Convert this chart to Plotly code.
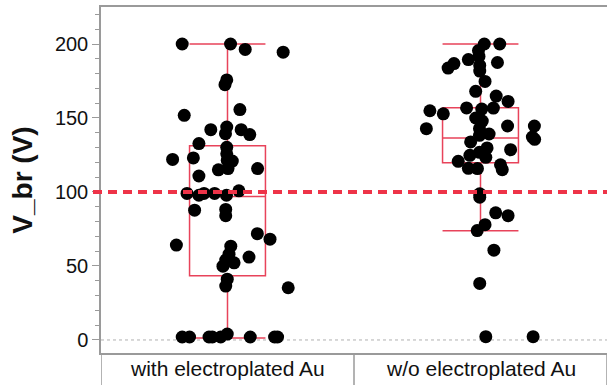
import plotly.graph_objects as go

categories = ["with electroplated Au", "w/o electroplated Au"]

# Group 1: with electroplated Au (values in V) and horizontal jitter (category units)
with_au_values = [200, 200, 196.3, 194.5, 175.7, 172.5, 151.8, 155.7, 142.1, 143.9,
                  139.4, 142.1, 138.8, 132.7, 122.0, 123.0, 130.2, 125.8, 121.4, 120.9,
                  115.8, 115.0, 115.8, 110.8, 99.0, 97.8, 99.0, 99.0, 97.8, 100.8,
                  87.7, 88.2, 84.0, 71.8, 68.1, 64.1, 63.4, 58.0, 54.0, 49.9,
                  52.1, 56.0, 41.1, 36.4, 35.3, 2.0, 2.0, 2.0, 2.0, 2.0,
                  4.0, 2.0, 2.0, 2.0]
with_au_jitter = [-0.179, 0.012, 0.070, 0.220, -0.003, -0.010, -0.171, 0.049, -0.066, -0.003,
                  -0.008, 0.054, 0.088, -0.113, -0.217, -0.135, -0.003, -0.003, -0.001, 0.019,
                  0.002, -0.036, 0.119, -0.113, -0.160, -0.113, -0.093, -0.051, -0.004, 0.045,
                  -0.130, -0.007, -0.007, 0.118, 0.168, -0.202, 0.013, 0.006, -0.007, -0.018,
                  0.026, 0.085, -0.001, -0.007, 0.240, -0.179, -0.150, -0.073, -0.060, -0.027,
                  -0.001, 0.090, 0.186, 0.198]

# Group 2: w/o electroplated Au
without_au_values = [200, 200, 195.6, 191.6, 189.5, 186.8, 183.7, 187.5, 185.5, 181.7,
                     174.7, 168.0, 164.8, 161.2, 154.9, 152.8, 156.8, 156.0, 156.7, 150.0,
                     147.9, 142.8, 144.6, 144.6, 142.8, 138.3, 139.2, 137.1, 135.6, 133.8,
                     129.8, 128.6, 124.8, 126.8, 123.4, 120.7, 116.0, 115.8, 118.4, 115.1,
                     98.8, 96.5, 85.9, 84.0, 77.9, 73.9, 60.7, 38.2, 2.2, 2.2]
without_au_jitter = [0.015, 0.076, -0.008, -0.006, -0.048, -0.105, -0.128, 0.067, -0.003, -0.003,
                     0.018, -0.019, 0.062, 0.109, -0.200, -0.147, -0.055, 0.005, 0.051, -0.019,
                     0.007, -0.214, 0.107, 0.213, -0.004, -0.004, 0.034, 0.205, 0.214, -0.039,
                     0.026, 0.119, -0.042, -0.004, 0.021, -0.088, -0.048, -0.012, 0.079, 0.086,
                     -0.003, -0.003, 0.060, 0.109, 0.018, -0.013, 0.053, -0.003, 0.021, 0.208]

# Box statistics
box_q1 = [43.4, 119.8]
box_median = [97.0, 136.5]
box_q3 = [131.3, 157.0]
box_lower = [1.4, 73.8]
box_upper = [200.0, 200.0]

threshold = 100
y_ticks = [0, 50, 100, 150, 200]

RED = "#EE3348"
BOXRED = "#E8435A"
GREY = "#9a9a9a"
FONT = "Liberation Sans, Arial, sans-serif"

fig = go.Figure()

for i in range(2):
    fig.add_trace(go.Box(
        x=[i], q1=[box_q1[i]], median=[box_median[i]], q3=[box_q3[i]],
        lowerfence=[box_lower[i]], upperfence=[box_upper[i]],
        width=0.3, whiskerwidth=1, boxpoints=False,
        fillcolor="rgba(0,0,0,0)", line=dict(color=BOXRED, width=1.5),
        showlegend=False, hoverinfo="skip"))

groups = [(with_au_values, with_au_jitter), (without_au_values, without_au_jitter)]
for i, (vals, jit) in enumerate(groups):
    fig.add_trace(go.Scatter(
        x=[i + j for j in jit], y=vals, mode="markers",
        marker=dict(color="black", size=13, line=dict(width=0)),
        showlegend=False))

plot_h = 385 - 7 - 32

# threshold line
fig.add_shape(type="line", xref="paper", yref="y", x0=-8 / 506, x1=1,
              y0=threshold, y1=threshold,
              line=dict(color=RED, width=4, dash="9px,6px"), layer="above")
# zero dotted line
fig.add_shape(type="line", xref="paper", yref="y", x0=0, x1=1, y0=0, y1=0,
              line=dict(color="#b0b0b0", width=1, dash="3px,3px"), layer="below")
# category separators below the axis
for xv in [-0.5, 0.5, 1.5]:
    fig.add_shape(type="line", xref="x", yref="paper", x0=xv, x1=xv,
                  y0=-32 / plot_h, y1=0, line=dict(color=GREY, width=1.5))

# category labels
for i, name in enumerate(categories):
    fig.add_annotation(x=i, xref="x", y=-15 / plot_h, yref="paper",
                       text=name, showarrow=False, yanchor="middle",
                       font=dict(size=21, color="#111"))

fig.update_layout(
    width=607, height=385,
    margin=dict(l=101, r=0, t=7, b=32, autoexpand=False),
    plot_bgcolor="white", paper_bgcolor="white",
    font=dict(family=FONT, size=20, color="#111"),
    xaxis=dict(range=[-0.5, 1.5], tickvals=[0, 1], showticklabels=False,
               showline=True, linecolor=GREY, linewidth=1.5, mirror=True,
               showgrid=False, zeroline=False, ticks=""),
    yaxis=dict(range=[-8.8, 225], tickvals=y_ticks, showline=True,
               linecolor=GREY, linewidth=1.5, showgrid=False, zeroline=False,
               ticks="outside", ticklen=7, tickcolor=GREY, tickwidth=1,
               minor=dict(dtick=10, ticks="outside", ticklen=4, tickcolor=GREY),
               tickfont=dict(size=20),
               title=dict(text="<b>V_br (V)</b>", font=dict(size=28), standoff=14)),
)

fig.write_html("out.html", config={"displayModeBar": False},
               post_script="document.body.style.margin='0';"
                           "document.body.style.overflow='hidden';")
